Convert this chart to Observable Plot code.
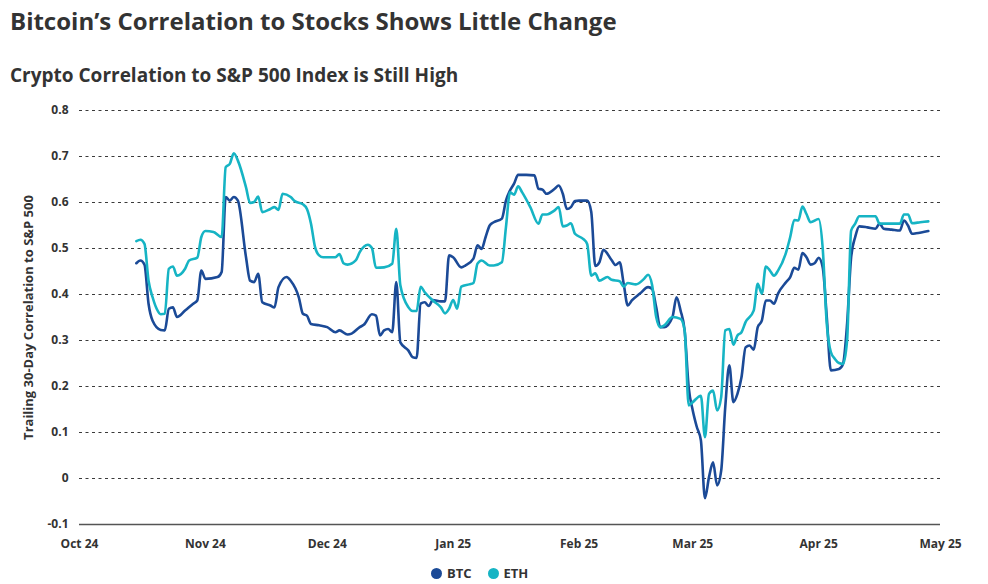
<!DOCTYPE html>
<html>
<head>
<meta charset="utf-8">
<script src="https://cdn.jsdelivr.net/npm/d3@7"></script>
<script src="https://cdn.jsdelivr.net/npm/@observablehq/plot@0.6"></script>
<style>
  html, body { margin: 0; padding: 0; background: #fff; }
  body { width: 988px; height: 584px; position: relative; overflow: hidden; font-family: "Open Sans", sans-serif; color: #333; }
  .title { position: absolute; left: 10px; top: 9px; font-size: 24px; line-height: 24px; font-weight: 700; color: #333; white-space: nowrap; }
  .subtitle { position: absolute; left: 10px; top: 66px; font-size: 19px; line-height: 19px; font-weight: 700; color: #333; white-space: nowrap; }
  #chart { position: absolute; left: 0; top: 95px; }
  .legend { position: absolute; top: 566px; left: 431px; display: flex; align-items: center; font-size: 13px; font-weight: 700; color: #333; line-height: 15px; }
  .legend .sw { width: 11px; height: 11px; border-radius: 50%; display: inline-block; margin-right: 5px; }
  .legend .item { display: flex; align-items: center; margin-right: 16px; }
</style>
</head>
<body>
<div class="title">Bitcoin’s Correlation to Stocks Shows Little Change</div>
<div class="subtitle">Crypto Correlation to S&amp;P 500 Index is Still High</div>
<div id="chart"></div>
<div class="legend" id="legend"></div>
<script>
// ---- Data ----
const seriesNames = ["BTC", "ETH"];
const seriesColors = ["#1b4a97", "#16b4c4"];

const btcDates = ["2024-10-15","2024-10-16","2024-10-17","2024-10-18","2024-10-19","2024-10-21","2024-10-22","2024-10-23","2024-10-24","2024-10-25","2024-10-27","2024-10-29","2024-10-30","2024-10-31","2024-11-01","2024-11-04","2024-11-05","2024-11-06","2024-11-07","2024-11-08","2024-11-09","2024-11-11","2024-11-12","2024-11-13","2024-11-14","2024-11-15","2024-11-17","2024-11-18","2024-11-19","2024-11-21","2024-11-22","2024-11-24","2024-11-25","2024-11-26","2024-11-27","2024-11-29","2024-12-01","2024-12-03","2024-12-04","2024-12-06","2024-12-07","2024-12-09","2024-12-10","2024-12-12","2024-12-13","2024-12-14","2024-12-15","2024-12-16","2024-12-17","2024-12-18","2024-12-19","2024-12-21","2024-12-22","2024-12-23","2024-12-24","2024-12-25","2024-12-26","2024-12-27","2024-12-29","2024-12-30","2024-12-31","2025-01-01","2025-01-03","2025-01-04","2025-01-06","2025-01-07","2025-01-08","2025-01-09","2025-01-10","2025-01-11","2025-01-13","2025-01-14","2025-01-15","2025-01-16","2025-01-17","2025-01-19","2025-01-21","2025-01-22","2025-01-23","2025-01-24","2025-01-26","2025-01-27","2025-01-28","2025-01-29","2025-01-30","2025-01-31","2025-02-01","2025-02-03","2025-02-04","2025-02-05","2025-02-06","2025-02-07","2025-02-09","2025-02-10","2025-02-11","2025-02-12","2025-02-13","2025-02-14","2025-02-16","2025-02-18","2025-02-19","2025-02-20","2025-02-21","2025-02-22","2025-02-24","2025-02-25","2025-02-26","2025-02-27","2025-02-28","2025-03-01","2025-03-02","2025-03-03","2025-03-04","2025-03-05","2025-03-06","2025-03-07","2025-03-08","2025-03-09","2025-03-10","2025-03-11","2025-03-12","2025-03-13","2025-03-14","2025-03-15","2025-03-16","2025-03-17","2025-03-18","2025-03-19","2025-03-20","2025-03-21","2025-03-22","2025-03-24","2025-03-25","2025-03-26","2025-03-27","2025-03-28","2025-03-29","2025-03-30","2025-03-31","2025-04-01","2025-04-02","2025-04-03","2025-04-04","2025-04-06","2025-04-07","2025-04-08","2025-04-09","2025-04-10","2025-04-11","2025-04-13","2025-04-15","2025-04-16","2025-04-17","2025-04-19","2025-04-21","2025-04-22","2025-04-23","2025-04-24","2025-04-25","2025-04-28"];
const btcValues = [0.468,0.474,0.465,0.38,0.343,0.323,0.322,0.369,0.372,0.351,0.365,0.38,0.387,0.452,0.434,0.438,0.449,0.612,0.604,0.612,0.604,0.481,0.43,0.427,0.445,0.383,0.376,0.372,0.416,0.438,0.43,0.394,0.358,0.354,0.336,0.333,0.329,0.318,0.322,0.313,0.315,0.329,0.334,0.357,0.354,0.311,0.322,0.325,0.318,0.427,0.296,0.278,0.264,0.262,0.38,0.383,0.375,0.388,0.385,0.385,0.485,0.481,0.459,0.463,0.478,0.507,0.499,0.525,0.55,0.557,0.565,0.604,0.626,0.641,0.66,0.66,0.659,0.63,0.628,0.619,0.63,0.637,0.619,0.586,0.59,0.603,0.604,0.604,0.58,0.462,0.47,0.497,0.475,0.464,0.47,0.423,0.376,0.387,0.402,0.416,0.412,0.372,0.329,0.329,0.351,0.394,0.365,0.322,0.198,0.148,0.112,0.083,-0.043,0.003,0.035,-0.015,0.017,0.155,0.246,0.166,0.184,0.22,0.285,0.289,0.28,0.329,0.343,0.387,0.387,0.38,0.402,0.427,0.438,0.458,0.454,0.49,0.481,0.465,0.468,0.48,0.459,0.351,0.235,0.238,0.249,0.336,0.481,0.525,0.548,0.546,0.543,0.554,0.543,0.541,0.539,0.561,0.55,0.532,0.533,0.538];

const ethDates = ["2024-10-15","2024-10-16","2024-10-17","2024-10-18","2024-10-19","2024-10-20","2024-10-21","2024-10-22","2024-10-23","2024-10-24","2024-10-25","2024-10-27","2024-10-28","2024-10-30","2024-10-31","2024-11-01","2024-11-03","2024-11-05","2024-11-06","2024-11-07","2024-11-08","2024-11-09","2024-11-11","2024-11-12","2024-11-13","2024-11-14","2024-11-15","2024-11-17","2024-11-18","2024-11-19","2024-11-20","2024-11-22","2024-11-23","2024-11-25","2024-11-26","2024-11-27","2024-11-28","2024-11-29","2024-11-30","2024-12-03","2024-12-04","2024-12-05","2024-12-06","2024-12-08","2024-12-09","2024-12-11","2024-12-12","2024-12-13","2024-12-15","2024-12-17","2024-12-18","2024-12-19","2024-12-21","2024-12-22","2024-12-23","2024-12-24","2024-12-25","2024-12-27","2024-12-29","2024-12-30","2024-12-31","2025-01-01","2025-01-02","2025-01-03","2025-01-05","2025-01-06","2025-01-07","2025-01-08","2025-01-10","2025-01-11","2025-01-13","2025-01-14","2025-01-15","2025-01-16","2025-01-17","2025-01-18","2025-01-20","2025-01-22","2025-01-23","2025-01-24","2025-01-26","2025-01-27","2025-01-28","2025-01-29","2025-01-30","2025-01-31","2025-02-02","2025-02-03","2025-02-04","2025-02-05","2025-02-06","2025-02-08","2025-02-09","2025-02-11","2025-02-12","2025-02-13","2025-02-15","2025-02-17","2025-02-18","2025-02-19","2025-02-20","2025-02-21","2025-02-22","2025-02-24","2025-02-26","2025-02-27","2025-02-28","2025-03-01","2025-03-03","2025-03-04","2025-03-05","2025-03-06","2025-03-07","2025-03-08","2025-03-09","2025-03-10","2025-03-11","2025-03-12","2025-03-13","2025-03-14","2025-03-16","2025-03-17","2025-03-18","2025-03-19","2025-03-20","2025-03-21","2025-03-22","2025-03-24","2025-03-25","2025-03-26","2025-03-27","2025-03-28","2025-03-29","2025-03-30","2025-04-01","2025-04-02","2025-04-03","2025-04-04","2025-04-05","2025-04-06","2025-04-07","2025-04-08","2025-04-09","2025-04-10","2025-04-11","2025-04-13","2025-04-15","2025-04-16","2025-04-19","2025-04-21","2025-04-22","2025-04-23","2025-04-24","2025-04-26","2025-04-28"];
const ethValues = [0.516,0.519,0.51,0.43,0.394,0.369,0.357,0.358,0.456,0.461,0.441,0.456,0.474,0.48,0.525,0.538,0.536,0.525,0.677,0.684,0.707,0.691,0.633,0.599,0.601,0.613,0.579,0.586,0.59,0.584,0.619,0.612,0.603,0.596,0.586,0.554,0.503,0.485,0.481,0.481,0.488,0.468,0.465,0.474,0.492,0.508,0.501,0.458,0.459,0.467,0.543,0.42,0.372,0.364,0.364,0.417,0.405,0.387,0.372,0.359,0.369,0.388,0.369,0.417,0.422,0.425,0.467,0.474,0.463,0.463,0.47,0.546,0.622,0.617,0.635,0.622,0.59,0.554,0.574,0.574,0.583,0.59,0.548,0.55,0.555,0.532,0.521,0.51,0.441,0.446,0.43,0.438,0.432,0.429,0.417,0.425,0.422,0.434,0.443,0.42,0.351,0.329,0.333,0.351,0.347,0.322,0.159,0.166,0.18,0.09,0.184,0.191,0.148,0.177,0.322,0.325,0.291,0.311,0.318,0.34,0.365,0.423,0.402,0.461,0.452,0.441,0.452,0.492,0.525,0.562,0.561,0.591,0.575,0.557,0.564,0.5,0.336,0.275,0.26,0.251,0.249,0.3,0.539,0.554,0.57,0.57,0.57,0.554,0.554,0.554,0.574,0.574,0.555,0.557,0.559];

const yTicks = [-0.1, 0, 0.1, 0.2, 0.3, 0.4, 0.5, 0.6, 0.7, 0.8];
const xTicks = ["2024-10-01","2024-11-01","2024-12-01","2025-01-01","2025-02-01","2025-03-01","2025-04-01","2025-05-01"];
const yLabel = "Trailing 30-Day Correlation to S&P 500";

// ---- Build rows ----
const rows = [
  ...btcDates.map((d, i) => ({series: "BTC", date: new Date(d), value: btcValues[i]})),
  ...ethDates.map((d, i) => ({series: "ETH", date: new Date(d), value: ethValues[i]}))
];
const xTickDates = xTicks.map(d => new Date(d));
const fmtY = d => d === 0 ? "0" : d.toFixed(1);

const chart = Plot.plot({
  width: 988,
  height: 465,
  marginTop: 15,
  marginBottom: 36,
  marginLeft: 79,
  marginRight: 48,
  style: {fontFamily: "'Open Sans', sans-serif", fontSize: "12px", fontWeight: 700, color: "#333", background: "transparent", overflow: "visible"},
  x: {type: "utc", domain: [xTickDates[0], xTickDates[xTickDates.length - 1]]},
  y: {domain: [-0.1, 0.8]},
  color: {domain: seriesNames, range: seriesColors},
  marks: [
    Plot.ruleY(yTicks.filter(d => d > -0.1), {stroke: "#3a3a3a", strokeWidth: 1, strokeDasharray: "3,3.5"}),
    Plot.ruleY([-0.1], {stroke: "#555", strokeWidth: 1.5}),
    Plot.axisY(yTicks, {tickSize: 0, tickPadding: 11, tickFormat: fmtY, label: null, fill: "#333"}),
    Plot.axisX(xTickDates, {tickSize: 0, tickPadding: 15, tickFormat: d3.utcFormat("%b %y"), label: null, fill: "#333"}),
    Plot.text([yLabel], {frameAnchor: "left", rotate: -90, dx: -51, textAnchor: "middle", fontSize: 13, fontWeight: 700, fill: "#333"}),
    Plot.line(rows.filter(r => r.series === "BTC"), {x: "date", y: "value", stroke: "series", strokeWidth: 2.6, curve: "monotone-x"}),
    Plot.line(rows.filter(r => r.series === "ETH"), {x: "date", y: "value", stroke: "series", strokeWidth: 2.6, curve: "monotone-x"})
  ]
});
document.getElementById("chart").appendChild(chart);

const legend = document.getElementById("legend");
seriesNames.forEach((name, i) => {
  const item = document.createElement("span");
  item.className = "item";
  const sw = document.createElement("span");
  sw.className = "sw";
  sw.style.background = seriesColors[i];
  item.appendChild(sw);
  item.appendChild(document.createTextNode(name));
  legend.appendChild(item);
});
</script>
</body>
</html>
